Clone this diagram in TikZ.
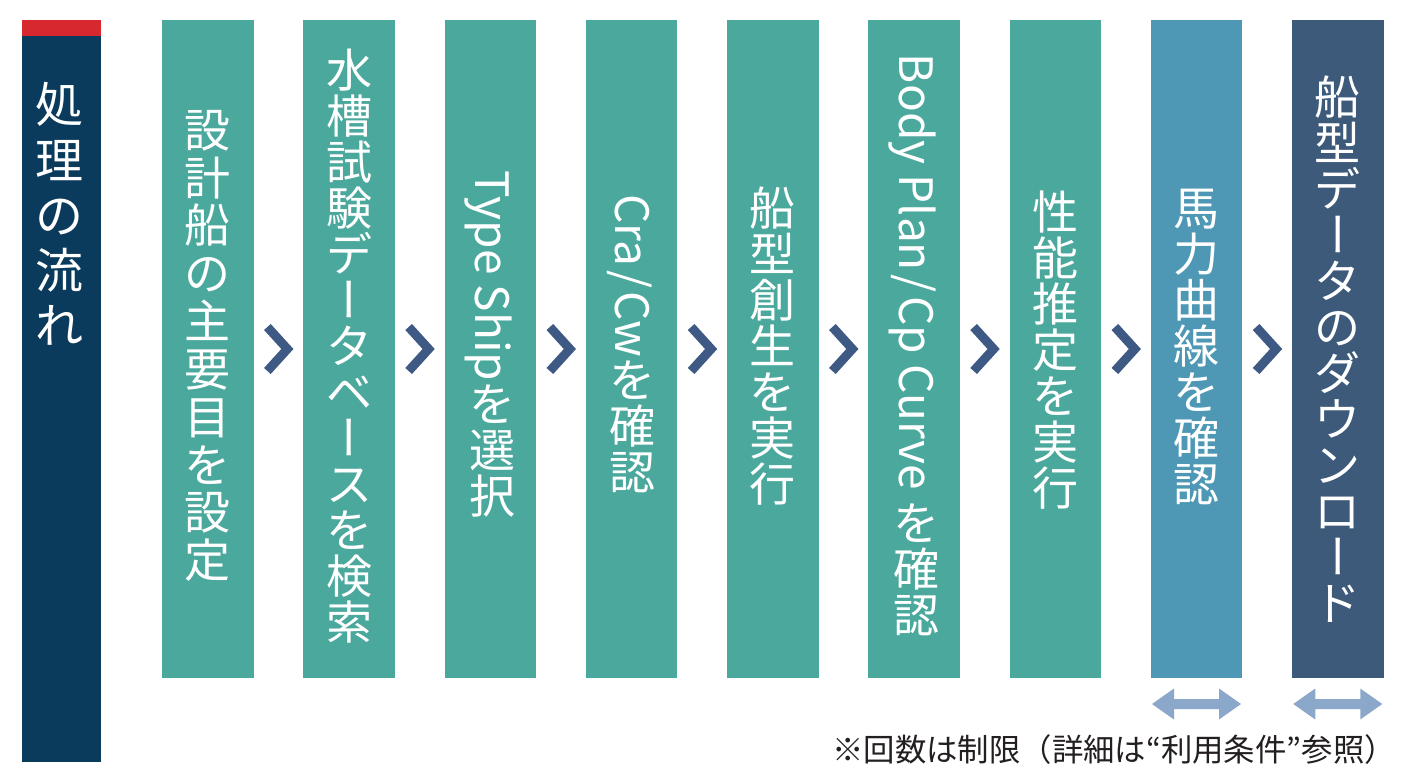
\documentclass[tikz,border=0pt]{standalone}
\usepackage{fontspec}
\setmainfont{Noto Sans CJK JP}
\usepackage{graphicx}
\usetikzlibrary{calc}
\definecolor{tealbox}{HTML}{4BA89D}
\definecolor{bluebox}{HTML}{4E98B5}
\definecolor{navybox}{HTML}{3D5A7B}
\definecolor{navyL}{HTML}{0A3A5C}
\definecolor{redT}{HTML}{D7282F}
\definecolor{chevc}{HTML}{3E5A84}
\definecolor{arrc}{HTML}{8BA7C9}
\definecolor{notec}{HTML}{231F20}
\newcommand\cwf{1}
\makeatletter
\def\RR#1{\RR@#1\@nil}
\def\RR@#1{\ifx#1\@nil\else\makebox[\cwf em]{\rotatebox[origin=c]{90}{\makebox[1em]{\rule[-0.12em]{0pt}{1em}#1}}}\expandafter\RR@\fi}
\makeatother
\newcommand\KB[1]{\makebox[\cwf em]{#1}}
\tikzset{
  stepbox/.style={fill=tealbox, draw=none, minimum width=91.5pt, minimum height=658pt, inner sep=0pt, outer sep=0pt, anchor=north west},
  vtext/.style={rotate=-90, text=white, font=\fontsize{46}{46}\selectfont, inner sep=0pt},
  chev/.style={draw=chevc, line width=9pt, line join=miter, line cap=butt},
  dbl/.style={fill=arrc, draw=none},
}
\begin{document}
\begin{tikzpicture}[x=1pt,y=-1pt]
\useasboundingbox (0,0) rectangle (1402,778);
% left bar
\node[fill=navyL, minimum width=79pt, minimum height=742pt, inner sep=0pt, outer sep=0pt, anchor=north west] (lb) at (22,20) {};
\fill[redT] (lb.north west) rectangle ($(lb.north east)+(0,16)$);
\node[vtext, font=\fontsize{48}{48}\selectfont] (lt) at ($(lb.north)+(-2,195)$) {\renewcommand\cwf{1.15}\RR{処理の流れ}};
% boxes
\node[stepbox] (b1) at (162,20) {};
\node[stepbox] (b2) at (303.25,20) {};
\node[stepbox] (b3) at (444.5,20) {};
\node[stepbox] (b4) at (585.75,20) {};
\node[stepbox] (b5) at (727,20) {};
\node[stepbox] (b6) at (868.25,20) {};
\node[stepbox] (b7) at (1009.5,20) {};
\node[stepbox, fill=bluebox] (b8) at (1150.75,20) {};
\node[stepbox, fill=navybox] (b9) at (1292,20) {};
% texts
\node[vtext] (t1) at ($(b1.center)+(0,-4)$) {\renewcommand\cwf{1.04}\RR{設計船の主要目を設定}};
\node[vtext] (t2) at ($(b2.center)+(0,-3)$) {\RR{水槽試験デ}\KB{ー}\RR{タベ}\KB{ー}\RR{スを検索}};
\node[vtext] (t3) at ($(b3.center)+(0,-4)$) {Type Ship\RR{を選択}};
\node[vtext] (t4) at ($(b4.center)+(0,-4)$) {Cra\kern0.08em/\kern0.08em Cw\RR{を確認}};
\node[vtext] (t5) at ($(b5.center)+(0,-3)$) {\RR{船型創生を実行}};
\node[vtext] (t6) at ($(b6.center)+(0,-3)$) {Body Plan\kern0.08em/\kern0.08em Cp Curve \RR{を確認}};
\node[vtext] (t7) at ($(b7.center)+(0,1)$) {\RR{性能推定を実行}};
\node[vtext] (t8) at ($(b8.center)+(0,-3)$) {\RR{馬力曲線を確認}};
\node[vtext] (t9) at ($(b9.center)+(0,1)$) {\RR{船型デ}\KB{ー}\RR{タのダウンロ}\KB{ー}\RR{ド}};
% chevrons
\foreach \i/\j in {1/2,2/3,3/4,4/5,5/6,6/7,7/8,8/9}{
  \draw[chev] ($(b\i.east)!0.5!(b\j.west)+(-11,-22)$) -- ++(20,22) -- ++(-20,22);
}
% double arrows
\coordinate (d1) at ($(b8.south)+(0,26)$);
\coordinate (d2) at ($(b9.south)+(0,26)$);
\foreach \d in {d1,d2}{
  \fill[dbl] (\d) ++(-44.5,0) -- ++(22,-15.5) -- ++(0,10.5) -- ++(45,0) -- ++(0,-10.5) -- ++(22,15.5) -- ++(-22,15.5) -- ++(0,-10.5) -- ++(-45,0) -- ++(0,10.5) -- cycle;
}
% note
\node[anchor=base east, font=\fontsize{31.4}{31.4}\selectfont, text=notec, inner sep=0pt] (note) at (1396,761) {※回数は制限（詳細は“利用条件”参照）};
\end{tikzpicture}
\end{document}
